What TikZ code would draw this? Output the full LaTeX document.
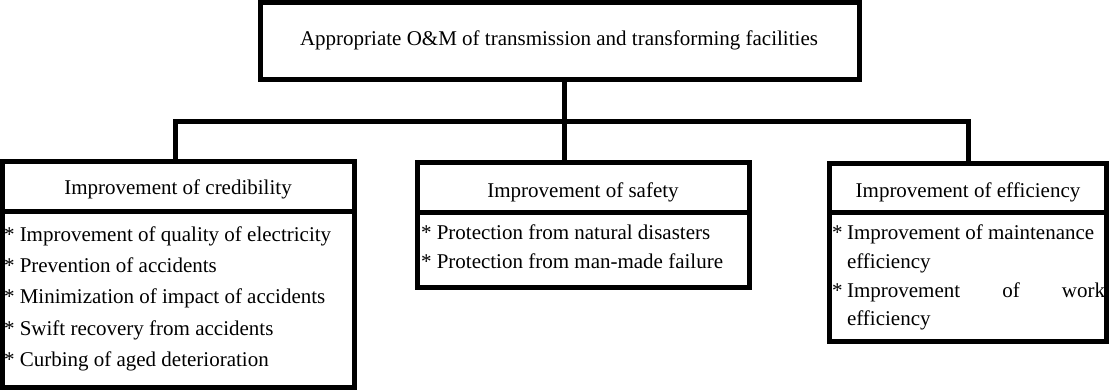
\documentclass[tikz,border=0pt]{standalone}
\usepackage{fontspec}
\setmainfont{Liberation Serif}
\begin{document}
\begin{tikzpicture}[x=0.75pt,y=-0.75pt,
  frame/.style={draw=black, line width=3.75pt, inner sep=0pt, outer sep=0pt, fill=white},
  wire/.style={draw=black, line width=3.75pt},
  txt/.style={inner sep=0pt, outer sep=0pt, anchor=base, font=\fontsize{15.75}{18}\selectfont},
  item/.style={txt, anchor=base west}]
\useasboundingbox (0,0) rectangle (1109,390);
% junction coordinates
\coordinate (junc) at (564,121);
\coordinate (barL) at (175,121);
\coordinate (barR) at (968,121);
% boxes
\node[frame, minimum width=449.25pt, minimum height=57.375pt] (top) at (559.5,40.75) {};
\node[frame, minimum width=264pt, minimum height=37.5pt] (lh) at (178,186) {};
\node[frame, minimum width=249pt, minimum height=37.5pt] (mh) at (583,187) {};
\node[frame, minimum width=207.75pt, minimum height=36.75pt] (rh) at (967.5,187.5) {};
% connectors
\draw[wire] (top.south -| junc) -- (junc |- mh.north);
\draw[wire] (barL |- lh.north) -- (barL) -- (barR) -- (barR |- rh.north);
% redraw boxes over connectors
\node[frame, minimum width=449.25pt, minimum height=57.375pt] at (top) {};
\node[frame, minimum width=264pt, minimum height=37.5pt] at (lh) {};
\node[frame, minimum width=249pt, minimum height=37.5pt] at (mh) {};
\node[frame, minimum width=207.75pt, minimum height=36.75pt] at (rh) {};
\node[frame, minimum width=264pt, minimum height=132pt] (lb) at (178,299) {};
\node[frame, minimum width=249pt, minimum height=56.25pt] (mb) at (583,249.5) {};
\node[frame, minimum width=207.75pt, minimum height=96.75pt] (rb) at (967.5,276.5) {};
% texts
\node[txt] (ttop) at (559,45) {Appropriate O\&M of transmission and transforming facilities};
\node[txt] (tlh) at (178,194) {Improvement of credibility};
\node[txt] (tmh) at (583,197) {Improvement of safety};
\node[txt] (trh) at (968,197) {Improvement of efficiency};
\node[item] (l1) at (4,241) {* Improvement of quality of electricity};
\node[item] (l2) at (4,272) {* Prevention of accidents};
\node[item] (l3) at (4,303.5) {* Minimization of impact of accidents};
\node[item] (l4) at (4,335) {* Swift recovery from accidents};
\node[item] (l5) at (4,366.5) {* Curbing of aged deterioration};
\node[item] (m1) at (421,239) {* Protection from natural disasters};
\node[item] (m2) at (421,268) {* Protection from man-made failure};
\node[item] (r1s) at (832,239) {*};
\node[item] (r1) at (847,239) {Improvement of maintenance};
\node[item] (r2) at (847,268) {efficiency};
\node[item] (r3s) at (832,297) {*};
\node[item] (r3) at (847,297) {\makebox[193.5pt][s]{Improvement of work}};
\node[item] (r4) at (847,325) {efficiency};
\end{tikzpicture}
\end{document}
